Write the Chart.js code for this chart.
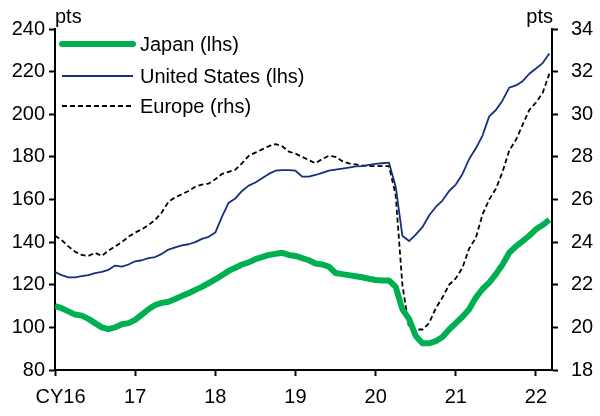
<!DOCTYPE html>
<html>
<head>
<meta charset="utf-8">
<script src="https://cdn.jsdelivr.net/npm/chart.js@4"></script>
<style>
    html, body { margin: 0; padding: 0; background: #fff; }
    #wrap { width: 600px; height: 416px; position: relative; }
</style>
</head>
<body>
<div id="wrap"><canvas id="chart"></canvas></div>
<script>
// Monthly readings, Jan 2016 to Mar 2022
const startYear = 2016;

const japan = [
    110, 109, 107.5, 106, 105.5, 104, 102, 100, 99.2, 100, 101.5, 102,
    103.5, 106, 108.5, 110.5, 111.5, 112, 113.3, 114.8, 116, 117.6, 119, 120.8,
    122.5, 124.5, 126.5, 128, 129.5, 130.5, 132, 133, 134, 134.5, 135, 134,
    133.5, 132.5, 131.5, 130, 129.5, 128.5, 125.5, 125, 124.5, 124, 123.5, 122.8,
    122.2, 122, 122, 119, 108.5, 104, 96, 92.5, 92.5, 93.5, 95.5, 99,
    102, 105, 108.5, 114, 118, 121, 125, 129.5, 135, 138, 140.5, 143,
    146, 148, 150.5
];

const unitedStates = [
    126, 124.5, 123.5, 123.5, 124, 124.5, 125.5, 126, 127, 129, 128.5, 129.5,
    131, 131.5, 132.5, 133, 134.5, 136.5, 137.5, 138.5, 139, 140, 141.5, 142.5,
    144.5, 152, 158.5, 160.5, 164, 166.5, 168, 170, 172, 173.5, 173.8, 173.8,
    173.5, 170.7, 170.7, 171.5, 172.5, 173.5, 174, 174.5, 175, 175.5, 175.7, 176.2,
    176.7, 177, 177.3, 166, 143, 140.5, 143.5, 147, 152.5, 156.5, 159.5, 164,
    167, 172, 179, 184, 190, 199, 202, 206.5, 212.5, 213.5, 215.5, 219,
    221.5, 224, 228.5
];

const europe = [
    24.3, 24.1, 23.8, 23.55, 23.4, 23.35, 23.5, 23.35, 23.6, 23.8, 24.0, 24.25,
    24.45, 24.6, 24.8, 25.05, 25.4, 25.9, 26.1, 26.25, 26.4, 26.6, 26.7, 26.75,
    26.95, 27.2, 27.3, 27.4, 27.7, 28.05, 28.2, 28.35, 28.5, 28.6, 28.5, 28.25,
    28.15, 28.0, 27.85, 27.7, 27.9, 28.05, 28.0, 27.8, 27.7, 27.65, 27.6, 27.57,
    27.57, 27.57, 27.57, 26.2, 22.0, 20.0, 19.9, 19.9, 20.2, 20.9, 21.4, 22.0,
    22.3, 22.8, 23.7, 24.2, 25.3, 26.0, 26.5, 27.3, 28.3, 28.8, 29.5, 30.2,
    30.55, 31.0, 31.9
];

const leftTicks = { min: 80, max: 240, step: 20 };
const rightTicks = { min: 18, max: 34, step: 2 };
const seriesNames = ['Japan (lhs)', 'United States (lhs)', 'Europe (rhs)'];

const FONT = 'Liberation Sans, Arial, sans-serif';

function toPoints(values) {
    return values.map((v, i) => ({ x: startYear + i / 12, y: v }));
}

// legend drawn inside the plot, top-left
const insideLegend = {
    id: 'insideLegend',
    afterDraw(chart) {
        const ctx = chart.ctx;
        const area = chart.chartArea;
        const x0 = area.left + 6;
        const rows = [15, 47, 77];
        ctx.save();
        chart.data.datasets.forEach((ds, i) => {
            const y = area.top + rows[i];
            ctx.beginPath();
            ctx.strokeStyle = ds.borderColor;
            ctx.lineWidth = ds.borderWidth;
            ctx.lineCap = i === 0 ? 'round' : 'butt';
            ctx.setLineDash(ds.borderDash || []);
            ctx.moveTo(x0 + 1, y);
            ctx.lineTo(x0 + 72, y);
            ctx.stroke();
            ctx.setLineDash([]);
            ctx.fillStyle = '#000';
            ctx.font = '20px ' + FONT;
            ctx.textAlign = 'left';
            ctx.textBaseline = 'middle';
            ctx.fillText(ds.label, x0 + 79, y + 1);
        });
        // unit labels
        ctx.font = '20px ' + FONT;
        ctx.textBaseline = 'middle';
        ctx.textAlign = 'left';
        ctx.fillText('pts', area.left, 17);
        ctx.textAlign = 'right';
        ctx.fillText('pts', area.right + 1, 17);
        ctx.restore();
    }
};

const axisStyle = {
    display: true,
    drawOnChartArea: false,
    drawTicks: true,
    tickLength: 6,
    tickWidth: 2,
    tickColor: '#000'
};

new Chart(document.getElementById('chart'), {
    type: 'line',
    data: {
        datasets: [
            {
                label: seriesNames[0],
                data: toPoints(japan),
                borderColor: '#00b050',
                borderWidth: 6,
                yAxisID: 'y'
            },
            {
                label: seriesNames[1],
                data: toPoints(unitedStates),
                borderColor: '#14307a',
                borderWidth: 1.8,
                yAxisID: 'y'
            },
            {
                label: seriesNames[2],
                data: toPoints(europe),
                borderColor: '#000',
                borderWidth: 1.8,
                borderDash: [5, 3],
                yAxisID: 'y1'
            }
        ]
    },
    options: {
        responsive: true,
        maintainAspectRatio: false,
        animation: false,
        events: [],
        elements: {
            point: { radius: 0 },
            line: { tension: 0, borderJoinStyle: 'round', borderCapStyle: 'butt' }
        },
        layout: { padding: { top: 29, left: 0, right: 0, bottom: 0 } },
        plugins: {
            legend: { display: false },
            tooltip: { enabled: false }
        },
        scales: {
            x: {
                type: 'linear',
                min: startYear,
                max: 2022.2,
                grid: axisStyle,
                border: { color: '#000', width: 2 },
                ticks: {
                    stepSize: 1,
                    includeBounds: false,
                    color: '#000',
                    font: { family: FONT, size: 20 },
                    padding: 9,
                    maxRotation: 0,
                    callback: v => v === startYear ? '  CY16' : String(v - 2000)
                },
                afterFit: s => { s.height = 46; }
            },
            y: {
                position: 'left',
                min: leftTicks.min,
                max: leftTicks.max,
                grid: axisStyle,
                border: { color: '#000', width: 2 },
                ticks: {
                    stepSize: leftTicks.step,
                    color: '#000',
                    font: { family: FONT, size: 20 },
                    padding: 4
                },
                afterFit: s => { s.width = 55; }
            },
            y1: {
                position: 'right',
                min: rightTicks.min,
                max: rightTicks.max,
                grid: axisStyle,
                border: { color: '#000', width: 2 },
                ticks: {
                    stepSize: rightTicks.step,
                    color: '#000',
                    font: { family: FONT, size: 20 },
                    padding: 13
                },
                afterFit: s => { s.width = 48; }
            }
        }
    },
    plugins: [insideLegend]
});
</script>
</body>
</html>
